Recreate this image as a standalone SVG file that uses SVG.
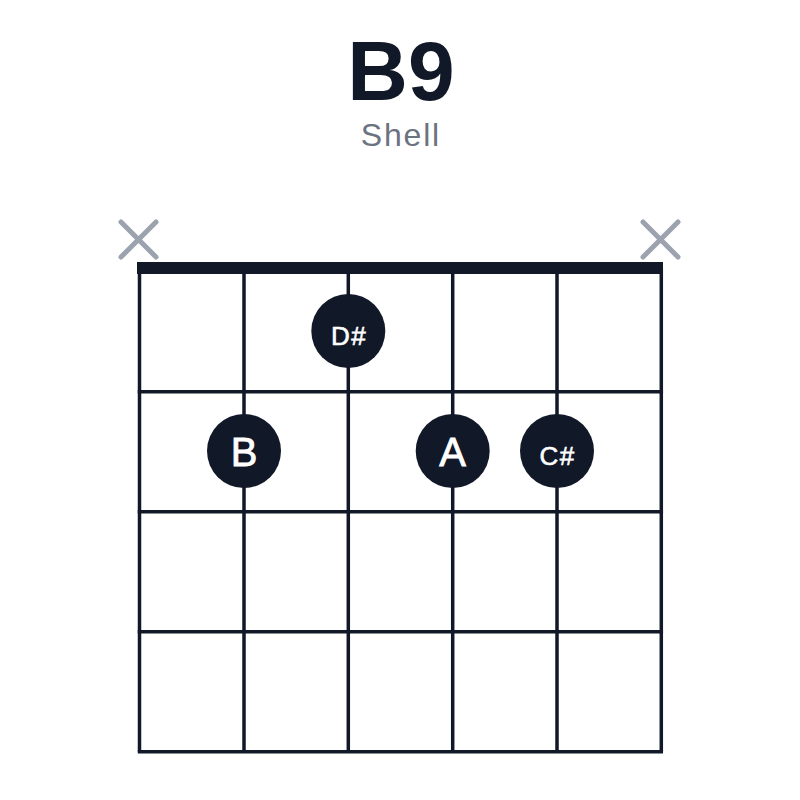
<svg xmlns="http://www.w3.org/2000/svg" width="800" height="800" viewBox="0 0 800 800">
<style>
.title{font-family:"Liberation Sans",Arial,sans-serif;font-weight:bold;font-size:84px;fill:#111827;text-anchor:middle}
.sub{font-family:"Liberation Sans",Arial,sans-serif;font-size:32px;letter-spacing:1.8px;fill:#6b7280;text-anchor:middle}
.str{stroke:#111827;stroke-width:3.5;fill:none}
.nut{stroke:#111827;stroke-width:12;fill:none}
.x{stroke:#9ca3af;stroke-width:5;stroke-linecap:round;fill:none}
.dot{fill:#111827}
.l1{font-family:"Liberation Sans",Arial,sans-serif;font-size:40px;fill:#ffffff;stroke:#ffffff;stroke-width:0.8;text-anchor:middle}
.l2{font-family:"Liberation Sans",Arial,sans-serif;font-size:26px;letter-spacing:1.5px;fill:#ffffff;stroke:#ffffff;stroke-width:0.6;text-anchor:middle}
</style>
<rect width="800" height="800" fill="#ffffff"/>
<g id="title"><text class="title" x="401" y="100">B9</text></g>
<g id="subtitle"><text class="sub" x="400.9" y="146">Shell</text></g>
<g id="grid">
<line class="str" x1="139.5" y1="268" x2="139.5" y2="751.5"/>
<line class="str" x1="244" y1="268" x2="244" y2="751.5"/>
<line class="str" x1="348.3" y1="268" x2="348.3" y2="751.5"/>
<line class="str" x1="452.7" y1="268" x2="452.7" y2="751.5"/>
<line class="str" x1="557" y1="268" x2="557" y2="751.5"/>
<line class="str" x1="661.3" y1="268" x2="661.3" y2="751.5"/>
<line class="str" x1="137.75" y1="391.7" x2="663.05" y2="391.7"/>
<line class="str" x1="137.75" y1="511.7" x2="663.05" y2="511.7"/>
<line class="str" x1="137.75" y1="631.7" x2="663.05" y2="631.7"/>
<line class="str" x1="137.75" y1="751.7" x2="663.05" y2="751.7"/>
<line class="nut" x1="137" y1="268" x2="663" y2="268"/>
</g>
<g id="mute1"><path class="x" d="M121 222L156 257M156 222L121 257"/></g>
<g id="mute6"><path class="x" d="M643 222L678 257M678 222L643 257"/></g>
<g id="dot-Dsharp"><circle class="dot" cx="348.3" cy="331" r="37"/><text class="l2" x="349" y="344.5">D#</text></g>
<g id="dot-B"><circle class="dot" cx="244" cy="451" r="37"/><text class="l1" x="244" y="465.5">B</text></g>
<g id="dot-A"><circle class="dot" cx="452.7" cy="451" r="37"/><text class="l1" x="452.7" y="465.5">A</text></g>
<g id="dot-Csharp"><circle class="dot" cx="557" cy="451" r="37"/><text class="l2" x="557.7" y="464.5">C#</text></g>
</svg>
